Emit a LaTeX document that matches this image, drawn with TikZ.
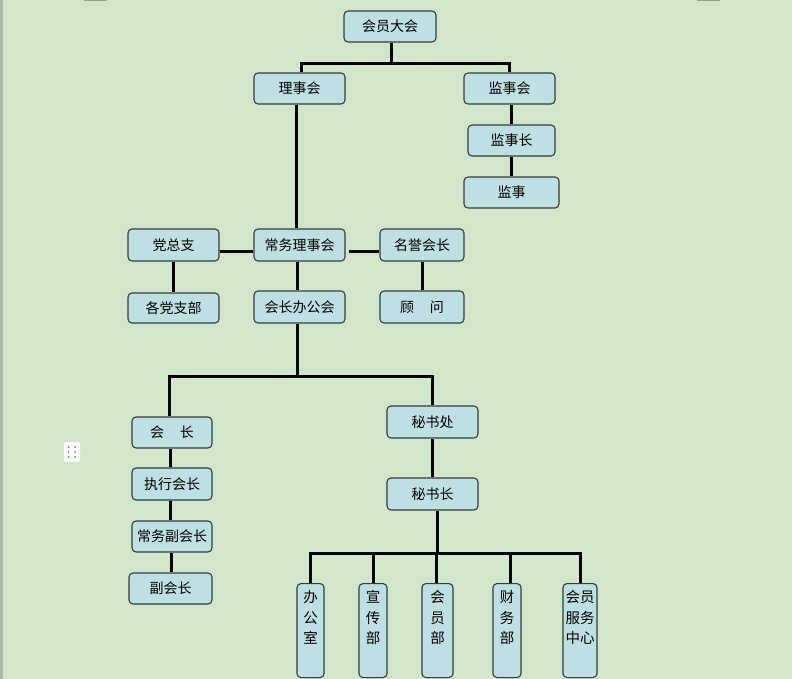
\documentclass[tikz,border=0pt]{standalone}
\usepackage{fontspec}
\newfontfamily\cjk{Noto Sans CJK SC}
\definecolor{bgc}{RGB}{208,231,203}
\definecolor{boxfill}{RGB}{189,224,228}
\definecolor{boxline}{RGB}{55,60,58}
\begin{document}
\begin{tikzpicture}[x=1pt,y=-1pt,
  box/.style={draw=boxline,fill=boxfill,rounded corners=4pt,line width=1.1pt,inner sep=0pt,
    font=\cjk\fontsize{14}{20.5}\selectfont,text=black,align=center},
  vbox/.style={box,anchor=north,font=\cjk\fontsize{14.5}{20.5}\selectfont,inner xsep=0pt,inner ysep=7pt,text height=53pt,text depth=27pt},
  conn/.style={line width=3pt,black}]
\useasboundingbox (0,0) rectangle (792,679);
\fill[bgc] (0,0) rectangle (792,679);
\fill[black!20!bgc] (0,0) rectangle (3,679);
\fill[black!30!bgc] (84,0) rectangle (107,1.5);
\fill[black!30!bgc] (697,0) rectangle (720,1.5);
% drag icon
\fill[white,rounded corners=2pt] (64,442) rectangle (80,462);
\foreach \dx in {68.5,75}{\foreach \dy in {447,452,457}{\fill[black!45] (\dx,\dy) circle (1.1pt);}}

% nodes
\node[box,minimum width=92pt,minimum height=31pt] (hy) at (390,26.5) {会员大会};
\node[box,minimum width=91pt,minimum height=31pt] (lsh) at (299.5,88.5) {理事会};
\node[box,minimum width=91pt,minimum height=31pt] (jsh) at (509.5,88.5) {监事会};
\node[box,minimum width=87pt,minimum height=31pt] (jsz) at (511.5,140.5) {监事长};
\node[box,minimum width=95pt,minimum height=31pt] (js) at (511.5,192.5) {监事};
\node[box,minimum width=91pt,minimum height=32pt] (dzz) at (173.5,245) {党总支};
\node[box,minimum width=91pt,minimum height=32pt] (cw) at (299.5,245) {常务理事会};
\node[box,minimum width=84pt,minimum height=32pt] (my) at (422,245) {名誉会长};
\node[box,minimum width=91pt,minimum height=30pt] (gdzb) at (173.5,308) {各党支部};
\node[box,minimum width=91pt,minimum height=32pt] (hzb) at (299.5,307) {会长办公会};
\node[box,minimum width=84pt,minimum height=32pt] (gw) at (422,307) {顾\hspace{16pt}问};
\node[box,minimum width=80pt,minimum height=31pt] (hz) at (172,432.5) {会\hspace{16pt}长};
\node[box,minimum width=80pt,minimum height=32pt] (zx) at (172,484) {执行会长};
\node[box,minimum width=80pt,minimum height=31pt] (cf) at (172,536.5) {常务副会长};
\node[box,minimum width=83pt,minimum height=31pt] (fh) at (170.5,588.5) {副会长};
\node[box,minimum width=91pt,minimum height=32pt] (msc) at (432.5,422) {秘书处};
\node[box,minimum width=91pt,minimum height=32pt] (msz) at (432.5,494) {秘书长};
\node[vbox,minimum width=27pt] (bgs) at (310.5,583) {办\\公\\室};
\node[vbox,minimum width=28pt] (xcb) at (373,583) {宣\\传\\部};
\node[vbox,minimum width=31pt] (hyb) at (437.5,583) {会\\员\\部};
\node[vbox,minimum width=28pt] (cwb) at (507,583) {财\\务\\部};
\node[vbox,minimum width=34pt] (fwzx) at (580,583) {会员\\服务\\中心};

% connectors
\draw[conn] ([xshift=1pt]hy.south) -- ++(0,21) coordinate (t1);
\draw[conn] ([xshift=1.5pt]lsh.north) |- (t1) -| (jsh.north);
\draw[conn] ([xshift=-3.5pt]lsh.south) -- ([xshift=-3.5pt]cw.north);
\draw[conn] (jsz.north |- jsh.south) -- (jsz.north);
\draw[conn] (jsz.south) -- (jsz.south |- js.north);
\draw[conn] ([yshift=-6pt]dzz.east) -- ([yshift=-6pt]cw.west);
\draw[conn] ([xshift=3pt,yshift=-6pt]cw.east) -- ([yshift=-6pt]my.west);
\draw[conn] (dzz.south) -- (dzz.south |- gdzb.north);
\draw[conn] (my.south) -- (my.south |- gw.north);
\draw[conn] ([xshift=-2.5pt]cw.south) -- ([xshift=-2.5pt]hzb.north);
\draw[conn] ([xshift=-2.5pt]hzb.south) -- ++(0,53) coordinate (t2);
\draw[conn] ([xshift=-3pt]hz.north) |- (t2) -| (msc.north);
\draw[conn] ([xshift=-2pt]hz.south) -- ([xshift=-2pt]zx.north);
\draw[conn] ([xshift=-2pt]zx.south) -- ([xshift=-2pt]cf.north);
\draw[conn] ([xshift=-1pt]cf.south) -- ([xshift=-1pt]cf.south |- fh.north);
\draw[conn] (msc.south) -- (msz.north);
\draw[conn] ([xshift=4.5pt]msz.south) -- ++(0,43) coordinate (t3);
\draw[conn] (bgs.north) |- (t3) -| (fwzx.north);
\draw[conn] (xcb.north) -- (xcb.north |- t3);
\draw[conn] ([xshift=-1pt]hyb.north) -- ([xshift=-1pt]hyb.north |- t3);
\draw[conn] ([xshift=3pt]cwb.north) -- ([xshift=3pt]cwb.north |- t3);
\end{tikzpicture}
\end{document}
